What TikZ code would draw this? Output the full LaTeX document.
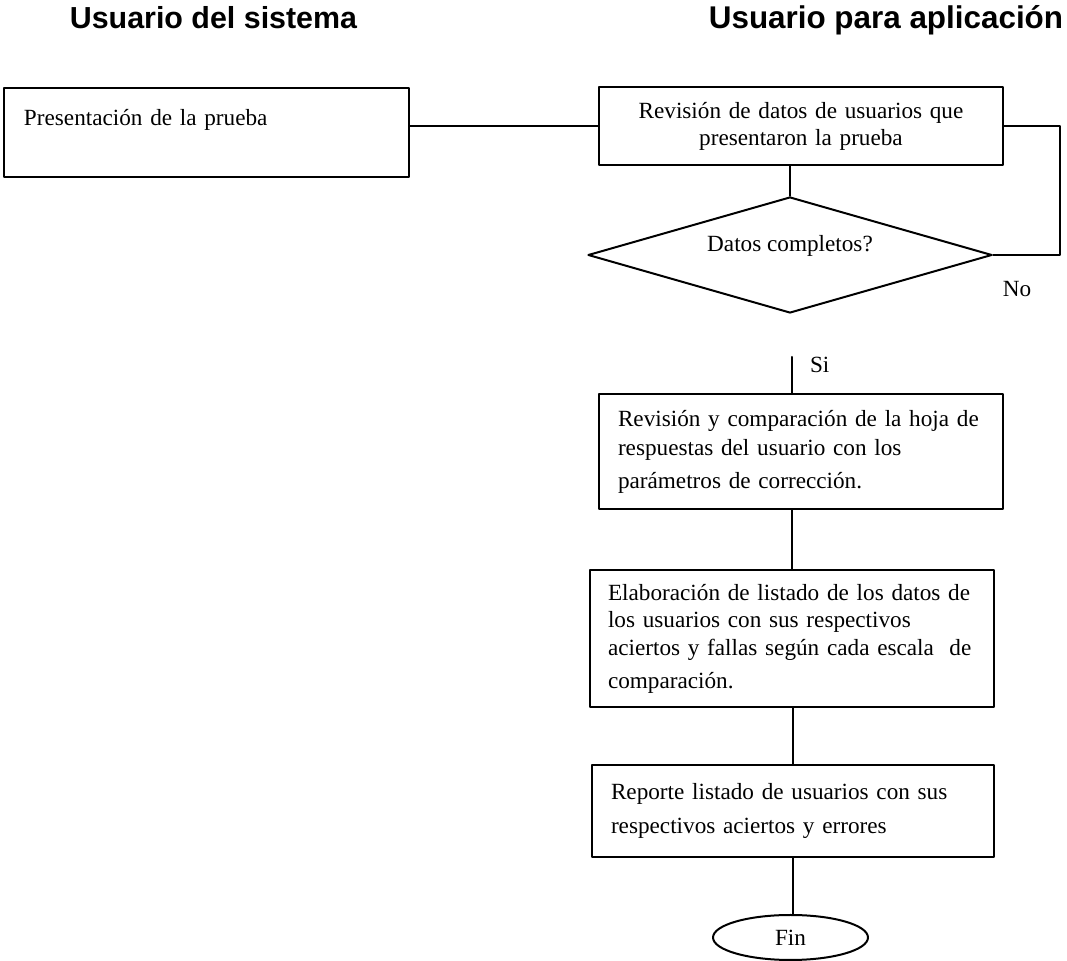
\documentclass[tikz,border=0pt]{standalone}
\usepackage{fontspec}
\setmainfont{Liberation Serif}
\newfontfamily\titulofont{Liberation Sans}
\usetikzlibrary{shapes.geometric}

\begin{document}
\begin{tikzpicture}[line cap=round,line join=round,x=0.5pt,y=-0.5pt,line width=1pt,
  texto/.style={font=\fontsize{11.6}{13.5}\selectfont},
  caja/.style={texto,draw,rectangle,inner sep=0pt,inner xsep=9pt,align=left},
  decision/.style={texto,draw,diamond,aspect=3.5,inner sep=0pt,minimum width=202pt,minimum height=58pt,text depth=12pt},
  titulo/.style={anchor=base,font=\titulofont\bfseries\fontsize{15.2}{18}\selectfont},
  etiq/.style={texto,inner sep=0pt,anchor=base}]
\useasboundingbox (0,0) rectangle (1067,961);
% titulos de las columnas
\node [titulo] (tsis) at (213.5,29) {Usuario del sistema};
\node [titulo,font=\titulofont\bfseries\fontsize{15.7}{18}\selectfont] (tapl) at (886,29) {Usuario para aplicación};
% cajas
\node [caja,inner xsep=10pt,text width=182.5pt,minimum height=44.5pt,text depth=14.6pt] (pres) at (206.5,132.5) {Presentación de la prueba};
\node [caja,align=center,text width=184pt,minimum height=39pt] (rev) at (801,126) {Revisión de datos de usuarios que\\presentaron la prueba};
\node [decision] (comp) at (790,255) {Datos completos?};
\node [caja,text width=183pt,inner xsep=9.5pt,minimum height=57.5pt] (hoja) at (801,451.5) {Revisión y comparación de la hoja de\\[1pt]respuestas del usuario con los\\[3pt]parámetros de corrección.};
\node [caja,text width=184pt,minimum height=68.5pt] (datos) at (792,638.5) {Elaboración de listado de los datos de\\los usuarios con sus respectivos\\[0.5pt]aciertos y fallas según cada escala\ \ de\\[3pt]comparación.};
\node [caja,text width=182pt,inner xsep=9.5pt,minimum height=46pt] (reporte) at (793,811) {Reporte listado de usuarios con sus\\[3.5pt]respectivos aciertos y errores};
\node [texto,draw,ellipse,inner sep=0pt,minimum width=77.5pt,minimum height=22.5pt] (fin) at (790.5,937.5) {Fin};
% etiquetas
\node [etiq] (no) at (1017,297) {No};
\node [etiq,anchor=base west] (lsi) at (809,373) {Si};
% conexiones
\coordinate (vuelta) at (1060,255);
\coordinate (si) at (792,357);
\draw (pres.east |- rev.west) -- (rev.west);
\draw (rev.east) -| (vuelta) -- (comp.east);
\draw (rev.south -| comp.north) -- (comp.north);
\draw (si) -- (si |- hoja.north);
\draw (hoja.south -| datos.north) -- (datos.north);
\draw (reporte.north |- datos.south) -- (reporte.north);
\draw (reporte.south) -- (reporte.south |- fin.north);
\end{tikzpicture}
\end{document}
